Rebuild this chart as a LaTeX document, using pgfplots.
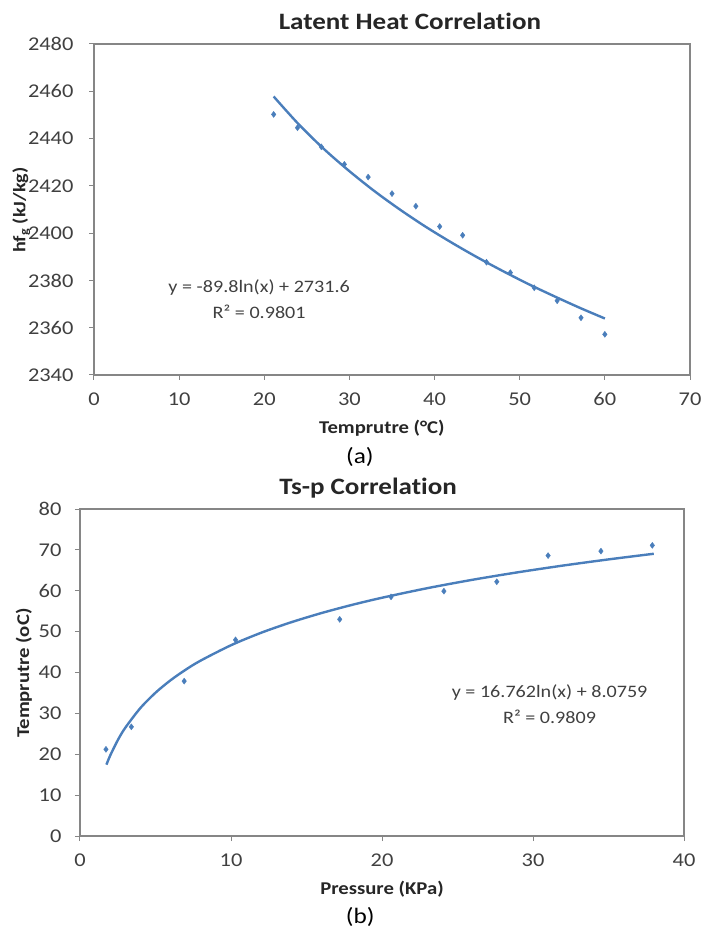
\documentclass[border=0pt]{standalone}
\usepackage{fontspec}
\setmainfont{Carlito}[FakeStretch=1.15, Ligatures={NoCommon,NoContextual}]
\usepackage{pgfplots}
\pgfplotsset{compat=1.18}
\definecolor{series}{HTML}{4A7EBB}
\definecolor{axgray}{HTML}{868686}
\definecolor{txt}{HTML}{404040}
\pgfplotsset{excel/.style={
  scale only axis, clip mode=individual,
  axis line style={axgray, line width=1.2pt},
  tick style={axgray, line width=1pt},
  tick align=outside, major tick length=5pt,
  xtick pos=bottom, ytick pos=left,
  tick label style={text=txt, font=\fontsize{19.5}{23}\selectfont},
  /pgf/number format/assume math mode=true,
  /pgf/number format/1000 sep={},
  xticklabel style={yshift=-9pt},
  label style={font=\bfseries\fontsize{18}{21}\selectfont, text=black!85},
  title style={font=\bfseries\fontsize{23.5}{28}\selectfont, text=black!85},
}}
\begin{document}
\begin{tikzpicture}[x=1pt,y=1pt]
\path (0,0) rectangle (705,935);
% ---------- (a)
\begin{axis}[excel,
  at={(94pt,560pt)}, anchor=south west,
  width=596pt, height=331pt,
  xmin=0, xmax=70, ymin=2340, ymax=2480,
  xtick={0,10,...,70}, ytick={2340,2360,...,2480},
  yticklabel style={xshift=-12pt},
  title={Latent Heat Correlation},
  title style={at={(axis description cs:0.530,1.050)}, anchor=center},
  xlabel={Temprutre (°C)},
  xlabel style={at={(axis description cs:0.483,-0.160)}, anchor=center},
  ylabel={hf\textsubscript{g} (kJ/kg)},
  ylabel style={at={(axis description cs:-0.122,0.498)}, anchor=center,
    font=\bfseries\fontsize{17.5}{20}\selectfont},
]
\addplot[series, line width=2.4pt, smooth] coordinates {
 (21.1,2457.8) (24,2446.2) (27,2435.6) (30,2426.2) (33,2417.6) (36,2409.8)
 (39,2402.6) (42,2396.0) (45,2389.8) (48,2384.0) (51,2378.5) (54,2373.4)
 (57,2368.5) (60,2363.9)};
\addplot[only marks, mark=diamond*, mark size=3pt, mark options={fill=series, draw=series}] coordinates {
 (21.1,2450.2) (23.9,2444.6) (26.7,2436.5) (29.4,2429.1) (32.2,2423.7)
 (35.0,2416.7) (37.8,2411.4) (40.6,2402.8) (43.3,2399.1) (46.1,2387.7)
 (48.9,2383.3) (51.7,2376.9) (54.4,2371.4) (57.2,2364.2) (60.0,2357.2)};
\node[text=txt, font=\fontsize{17.5}{20}\selectfont] at (axis cs:19.4,2377.2) {y = -89.8ln(x) + 2731.6};
\node[text=txt, font=\fontsize{17.5}{20}\selectfont] at (axis cs:19.4,2366.6) {R² = 0.9801};
\node[font=\fontsize{22}{26}\selectfont] at (axis description cs:0.446,-0.248) {(a)};
\end{axis}
% ---------- (b)
\begin{axis}[excel,
  at={(80pt,99pt)}, anchor=south west,
  width=604pt, height=327pt,
  xmin=0, xmax=40, ymin=0, ymax=80,
  xtick={0,10,...,40}, ytick={0,10,...,80},
  yticklabel style={xshift=-10pt},
  title={Ts-p Correlation},
  title style={at={(axis description cs:0.477,1.047)}, anchor=center},
  xlabel={Pressure (KPa)},
  xlabel style={at={(axis description cs:0.5,-0.163)}, anchor=center},
  ylabel={Temprutre (oC)},
  ylabel style={at={(axis description cs:-0.093,0.498)}, anchor=center},
]
\addplot[series, line width=2.4pt, smooth] coordinates {
 (1.75,17.46) (2,19.69) (2.5,23.43) (3,26.49) (4,31.31) (5,35.05) (6,38.11)
 (7,40.69) (8,42.93) (10,46.67) (12,49.73) (14,52.31) (16,54.55) (18,56.53)
 (20,58.29) (23,60.63) (26,62.69) (29,64.52) (32,66.17) (35,67.67) (38,69.05)};
\addplot[only marks, mark=diamond*, mark size=3pt, mark options={fill=series, draw=series}] coordinates {
 (1.72,21.2) (3.4,26.7) (6.9,37.9) (10.3,48.0) (17.2,53.0) (20.6,58.5)
 (24.1,59.9) (27.6,62.2) (31.0,68.6) (34.5,69.7) (37.9,71.1)};
\node[text=txt, font=\fontsize{17.5}{20}\selectfont] at (axis cs:31.1,35.0) {y = 16.762ln(x) + 8.0759};
\node[text=txt, font=\fontsize{17.5}{20}\selectfont] at (axis cs:31.1,29.1) {R² = 0.9809};
\node[font=\fontsize{22}{26}\selectfont] at (axis description cs:0.464,-0.248) {(b)};
\end{axis}
\end{tikzpicture}
\end{document}
